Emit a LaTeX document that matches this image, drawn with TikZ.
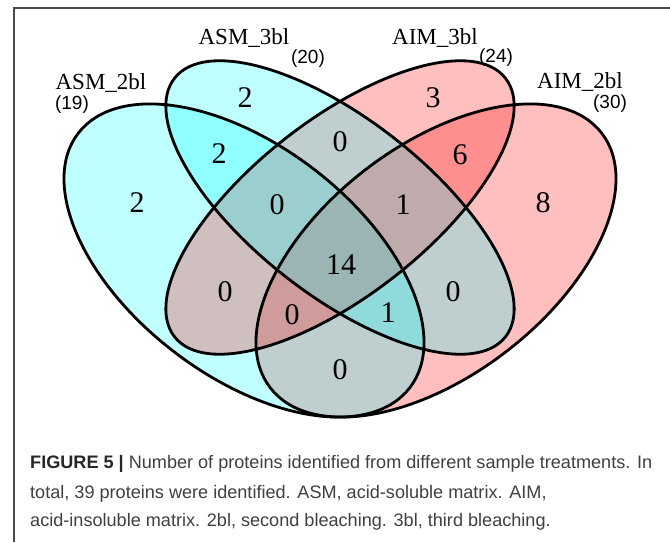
\documentclass[tikz,border=0pt]{standalone}
\usepackage{fontspec}
\setmainfont{Liberation Serif}
\newfontfamily\capfont{Liberation Sans}
\definecolor{framecol}{HTML}{4A4A4A}
\definecolor{captext}{HTML}{404040}
\definecolor{vcyan}{RGB}{0,255,255}
\definecolor{vred}{RGB}{255,0,0}
\tikzset{
  venncyan/.style={fill=vcyan, fill opacity=0.25},
  vennred/.style={fill=vred, fill opacity=0.25},
  vennline/.style={draw=black, line width=2.8pt},
  numlab/.style={font=\fontsize{30}{30}\selectfont, inner sep=0pt},
  catlab/.style={font=\fontsize{23}{23}\selectfont, inner sep=0pt},
  cntlab/.style={font=\capfont\fontsize{19}{19}\selectfont, inner sep=0pt},
  caplab/.style={font=\capfont\fontsize{18.1}{18.1}\selectfont, text=captext, inner sep=0pt, anchor=base west},
  framebar/.style={draw=framecol, line width=2pt}
}
\begin{document}
\begin{tikzpicture}[x=1pt,y=1pt]
\useasboundingbox (0,0) rectangle (670,542);
\fill[white] (0,0) rectangle (670,542);
% frame
\coordinate (fb) at (13.5,0);
\coordinate (fc) at (13.5,533.5);
\coordinate (fr) at (670,533.5);
\draw[framebar] (fb) -- (fc) -- (fr);
% ellipse centres
\coordinate (cA) at (244,281.5);
\coordinate (cB) at (340,334.5);
\coordinate (cC) at (340,334.5);
\coordinate (cD) at (436,281.5);
% fills (layer order D, A, C, B)
\path[vennred, rotate around={37.5:(cD)}] (cD) ellipse (209 and 115);
\path[venncyan, rotate around={-37.5:(cA)}] (cA) ellipse (209 and 115);
\path[vennred, rotate around={38:(cC)}] (cC) ellipse (210 and 88);
\path[venncyan, rotate around={-38:(cB)}] (cB) ellipse (210 and 88);
% outlines
\draw[vennline, rotate around={37.5:(cD)}] (cD) ellipse (209 and 115);
\draw[vennline, rotate around={-37.5:(cA)}] (cA) ellipse (209 and 115);
\draw[vennline, rotate around={38:(cC)}] (cC) ellipse (210 and 88);
\draw[vennline, rotate around={-38:(cB)}] (cB) ellipse (210 and 88);
% region counts
\node[numlab] (rA) at (137,339) {2};
\node[numlab] (rB) at (245,444) {2};
\node[numlab] (rAB) at (219,388) {2};
\node[numlab] (rBC) at (340,400) {0};
\node[numlab] (rC) at (433,444) {3};
\node[numlab] (rCD) at (460,387) {6};
\node[numlab] (rD) at (543,339) {8};
\node[numlab] (rABC) at (277,337) {0};
\node[numlab] (rBCD) at (403,337) {1};
\node[numlab] (rAll) at (341,277) {14};
\node[numlab] (rAC) at (225,250) {0};
\node[numlab] (rACD) at (292,227) {0};
\node[numlab] (rABD) at (388,229) {1};
\node[numlab] (rBD) at (453,250) {0};
\node[numlab] (rAD) at (340,172) {0};
% category labels
\node[catlab] (lA) at (101,459) {ASM\_2bl};
\node[cntlab] (kA) at (72,437) {(19)};
\node[catlab] (lB) at (244,504) {ASM\_3bl};
\node[cntlab] (kB) at (308,483) {(20)};
\node[catlab] (lC) at (435,504) {AIM\_3bl};
\node[cntlab] (kC) at (496,484) {(24)};
\node[catlab] (lD) at (580,460) {AIM\_2bl};
\node[cntlab] (kD) at (610,438) {(30)};
% caption
\node[caplab] (cap1) at (30,74) {\textbf{\color{black!85}FIGURE 5 |} Number of proteins identified from different sample treatments. In};
\node[caplab] (cap2) at (30,44) {total, 39 proteins were identified. ASM, acid-soluble matrix. AIM,};
\node[caplab] (cap3) at (30,16) {acid-insoluble matrix. 2bl, second bleaching. 3bl, third bleaching.};
\end{tikzpicture}
\end{document}
